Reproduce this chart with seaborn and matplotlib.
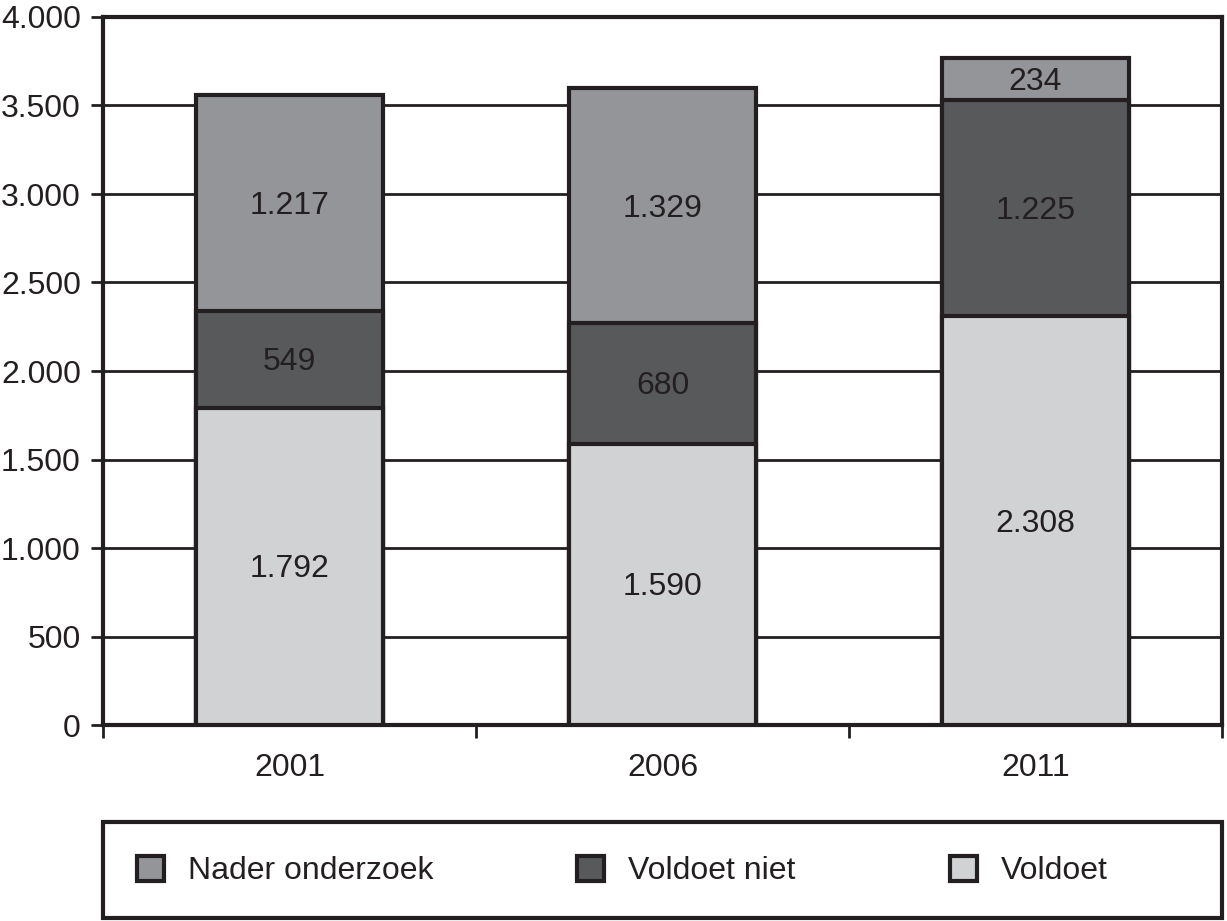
import matplotlib
matplotlib.use("Agg")
import matplotlib.pyplot as plt
import matplotlib.ticker as mticker
import matplotlib.transforms as mtransforms
from matplotlib.patches import Patch, Rectangle
import numpy as np
import seaborn as sns

# data
years = ["2001", "2006", "2011"]
voldoet = [1792, 1590, 2308]
voldoet_niet = [549, 680, 1225]
nader_onderzoek = [1217, 1329, 234]

INK = "#231f20"
COLORS = {
    "Nader onderzoek": "#949598",
    "Voldoet niet": "#58595b",
    "Voldoet": "#d1d2d4",
}
LEGEND_ORDER = ["Nader onderzoek", "Voldoet niet", "Voldoet"]
LEGEND_X = [137, 577, 950]  # pixel position of each legend entry
FONTSIZE = 23

sns.set_style("white")
plt.rcParams["font.family"] = ["Liberation Sans", "DejaVu Sans"]
plt.rcParams["text.color"] = INK


def _fmt(v, pos=None) -> str:
    return f"{int(round(v)):,}".replace(",", ".")


fig = plt.figure(figsize=(12.27, 9.21), dpi=100)
ax = fig.add_axes([103 / 1227, 1 - 725 / 921, (1222 - 103) / 1227, (725 - 17) / 921])

# stacked bars drawn as layered cumulative totals
bottom_1 = np.array(voldoet)
bottom_2 = bottom_1 + np.array(voldoet_niet)
totals = bottom_2 + np.array(nader_onderzoek)

layers = [
    (totals, COLORS["Nader onderzoek"]),
    (bottom_2, COLORS["Voldoet niet"]),
    (bottom_1, COLORS["Voldoet"]),
]
for heights, color in layers:
    sns.barplot(
        x=years,
        y=list(heights),
        color=color,
        saturation=1,
        width=0.5,
        edgecolor=INK,
        linewidth=3,
        errorbar=None,
        ax=ax,
        zorder=3,
    )

# value labels in the middle of each segment (nudged down a touch, digits have no descenders)
nudge = ax.transData + mtransforms.ScaledTranslation(0, -3 / 100, fig.dpi_scale_trans)
segments = [
    (voldoet, np.zeros(3)),
    (voldoet_niet, bottom_1),
    (nader_onderzoek, bottom_2),
]
for values, bottoms in segments:
    for i, (v, b) in enumerate(zip(values, bottoms)):
        ax.text(i, b + v / 2, _fmt(v), ha="center", va="center",
                fontsize=FONTSIZE, color=INK, zorder=4, transform=nudge)

ax.set_xlim(-0.5, 2.5)
ax.set_ylim(0, 4000)
ax.yaxis.set_major_locator(mticker.MultipleLocator(500))
ax.yaxis.set_major_formatter(mticker.FuncFormatter(_fmt))
ax.set_xlabel("")
ax.set_ylabel("")

ax.yaxis.grid(True, color=INK, linewidth=2)
ax.xaxis.grid(False)
ax.set_axisbelow(True)

for side in ["left", "bottom", "right", "top"]:
    ax.spines[side].set_visible(True)
    ax.spines[side].set_color(INK)
    ax.spines[side].set_linewidth(3)

ax.tick_params(axis="y", which="major", direction="out", length=9, width=2,
               color=INK, labelsize=FONTSIZE, labelcolor=INK, pad=7, left=True)
ax.set_xticks([0, 1, 2])
ax.set_xticklabels(years)
ax.set_xticks([-0.5, 0.5, 1.5, 2.5], minor=True)
ax.tick_params(axis="x", which="major", length=0, labelsize=FONTSIZE,
               labelcolor=INK, pad=20)
ax.tick_params(axis="x", which="minor", direction="out", length=9, width=2,
               color=INK, bottom=True)

# legend box spans the full plot width
box = Rectangle((103 / 1227, 1 - 918 / 921), (1222 - 103) / 1227, (918 - 822) / 921,
                transform=fig.transFigure, facecolor="white", edgecolor=INK,
                linewidth=3, zorder=1)
fig.add_artist(box)

# one legend per entry so the spacing follows the reference
for name, px in zip(LEGEND_ORDER, LEGEND_X):
    handle = Patch(facecolor=COLORS[name], edgecolor=INK, linewidth=3, label=name)
    leg = fig.legend(
        handles=[handle],
        loc="center left",
        bbox_to_anchor=(px / 1227, 1 - 871 / 921),
        fontsize=FONTSIZE,
        frameon=False,
        handlelength=0.85,
        handleheight=0.85,
        handletextpad=0.75,
        borderaxespad=0,
        borderpad=0,
    )
    for t in leg.get_texts():
        t.set_color(INK)

fig.savefig("out.png", dpi=100, facecolor="white")
